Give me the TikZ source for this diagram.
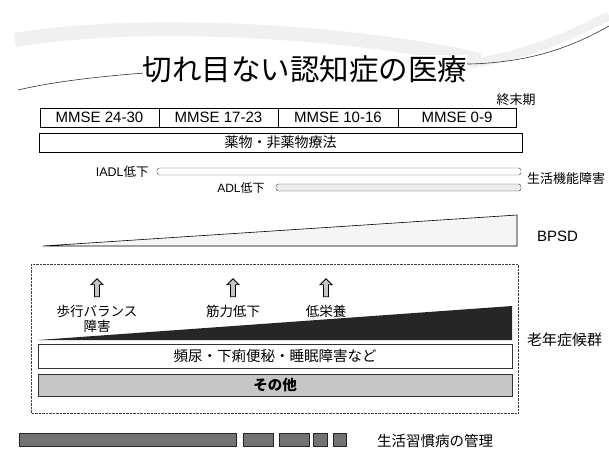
\documentclass[tikz,border=0pt]{standalone}
\usepackage{fontspec}
\setmainfont{Liberation Sans}
\newfontfamily\jp{Noto Sans CJK JP}
\usetikzlibrary{shapes.arrows}

\begin{document}
\begin{tikzpicture}[x=1pt,y=-1pt,
    stagebox/.style={draw,thin,minimum height=19pt,inner sep=0pt,font=\fontsize{15}{16}\selectfont},
    bar/.style={draw=black!75,thin,rounded corners=2.5pt,minimum height=7pt,inner sep=0pt},
    lab/.style={inner sep=1pt,font=\jp\fontsize{13.5}{14}\selectfont},
    sidelab/.style={anchor=west,inner sep=0pt,font=\jp\fontsize{13}{14}\selectfont},
    uparrow/.style={single arrow,draw,thick,fill=gray!45,shape border rotate=90,
      minimum height=18pt,minimum width=12pt,single arrow head extend=2.5pt,inner sep=1.5pt},
    band/.style={draw=black!80,minimum width=474pt,inner sep=0pt,font=\jp\fontsize{14.5}{15}\selectfont}]
  \useasboundingbox (0,0) rectangle (609,451);
  % swoosh behind the title
  \draw[gray!12,line width=14pt] (15,40) .. controls (160,16) and (380,36) .. (480,60) ;
  \draw[gray!12,line width=9pt] (470,64) .. controls (540,52) and (575,32) .. (609,16) ;
  \draw[black!80,semithick] (18,90) .. controls (110,68) and (300,64) .. (470,64) .. controls (540,62) and (580,42) .. (609,26) ;
  \node[fill=white,inner sep=0pt,font=\jp\fontsize{29.5}{30}\selectfont] (title) at (305,69) {切れ目ない認知症の医療} ;
  \node[lab,font=\jp\fontsize{13}{14}\selectfont] (end) at (516,100) {終末期} ;
  % MMSE stages
  \node[stagebox,minimum width=119pt] (m1) at (99.5,117.5) {MMSE 24-30} ;
  \node[stagebox,minimum width=119pt] (m2) at (218.5,117.5) {MMSE 17-23} ;
  \node[stagebox,minimum width=120pt] (m3) at (338,117.5) {MMSE 10-16} ;
  \node[stagebox,minimum width=118pt] (m4) at (457,117.5) {MMSE 0-9} ;
  \node[stagebox,semithick,minimum width=483pt,font=\jp\fontsize{14}{15}\selectfont] (drug) at (280.5,142.5) {薬物・非薬物療法} ;
  % ADL bars
  \node[bar,minimum width=364pt] (iadl) at (339,171.5) {} ;
  \node[bar,fill=gray!15,minimum width=245pt] (adl) at (398.5,187.5) {} ;
  \node[lab,anchor=east,font=\fontsize{12.5}{13}\selectfont] (iadlL) at ([xshift=-7pt]iadl.west) {IADL{\jp 低下}} ;
  \node[lab,anchor=east,font=\fontsize{12}{13}\selectfont] (adlL) at ([xshift=-10pt]adl.west) {ADL{\jp 低下}} ;
  \node[sidelab] (func) at (527,179) {生活機能障害} ;
  % BPSD
  \draw[semithick,fill=gray!8] (43,246) -- (517,215) -- (517,246) -- cycle ;
  \node[sidelab,font=\fontsize{15}{16}\selectfont] (bpsd) at (537,236) {BPSD} ;
  % geriatric syndromes
  \draw[thin,black!75,densely dotted] (31,264) rectangle (518,413) ;
  \foreach \x/\n in {97/a1,233/a2,326/a3}
    \node[uparrow] (\n) at (\x,289) {} ;
  \node[lab] (walk) at (97,311) {歩行バランス} ;
  \node[lab] (walk2) at (97,326) {障害} ;
  \node[lab] (muscle) at (233,311) {筋力低下} ;
  \node[lab] (nutr) at (326,311) {低栄養} ;
  \fill[black!85] (38,340) -- (512,306) -- (512,340) -- cycle ;
  \node[sidelab,font=\jp\fontsize{15}{16}\selectfont] (geri) at (527,340) {老年症候群} ;
  \node[band,semithick,minimum height=24pt] (urin) at (275,356) {頻尿・下痢便秘・睡眠障害など} ;
  \node[band,fill=gray!45,minimum height=22pt,font=\jp\bfseries\fontsize{14.5}{15}\selectfont] (other) at (275,385) {その他} ;
  % lifestyle disease
  \foreach \a/\b in {19/236,243/273,279/309,313/327,333/346}
    \draw[fill=black!55,draw=black!85] (\a,433) rectangle (\b,446) ;
  \node[sidelab,font=\jp\fontsize{14.5}{15}\selectfont] (life) at (377,441) {生活習慣病の管理} ;
\end{tikzpicture}
\end{document}
